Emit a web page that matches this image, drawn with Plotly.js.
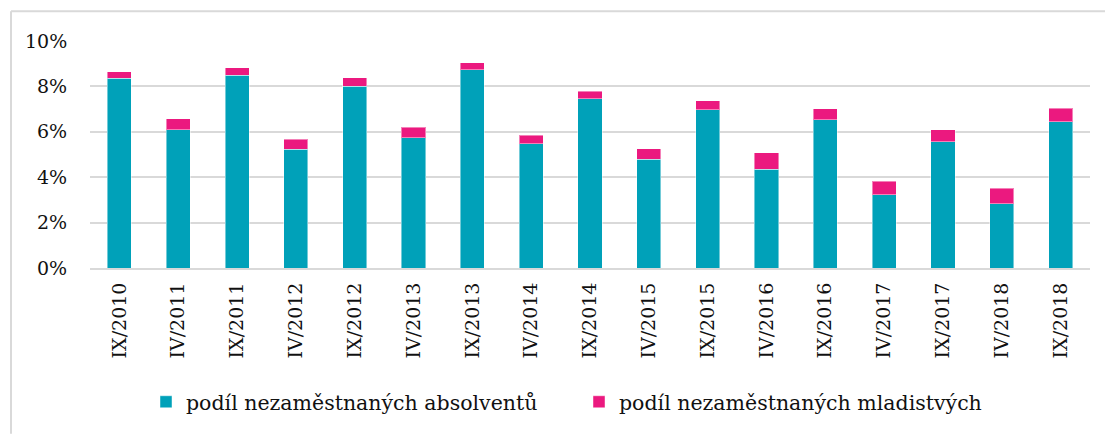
<!DOCTYPE html>
<html>
<head>
<meta charset="utf-8">
<script src="https://cdn.plot.ly/plotly-3.0.1.min.js"></script>
<style>html,body{margin:0;padding:0;background:#fff;}#chart{width:1105px;height:434px;}</style>
</head>
<body>
<div id="chart"></div>
<script>
const categories = ["IX/2010","IV/2011","IX/2011","IV/2012","IX/2012","IV/2013","IX/2013","IV/2014","IX/2014","IV/2015","IX/2015","IV/2016","IX/2016","IV/2017","IX/2017","IV/2018","IX/2018"];
const absolventi = [8.36,6.10,8.50,5.23,8.00,5.73,8.74,5.48,7.45,4.80,6.98,4.36,6.54,3.22,5.57,2.84,6.45];
const mladistvi  = [0.29,0.48,0.33,0.44,0.39,0.47,0.31,0.37,0.33,0.46,0.39,0.71,0.48,0.60,0.53,0.68,0.59];
const seriesNames = ["podíl nezaměstnaných absolventů","podíl nezaměstnaných mladistvých"];
const yTickVals = [0,2,4,6,8,10];
const yTickText = ["0%","2%","4%","6%","8%","10%"];

const font = "DejaVu Serif, Liberation Serif, serif";
const data = [
  {type:'bar', x:categories, y:absolventi, name:seriesNames[0],
   marker:{color:'#00a1b9', line:{color:'rgba(255,255,255,0.45)', width:1}}, hoverinfo:'y'},
  {type:'bar', x:categories, y:mladistvi, name:seriesNames[1],
   marker:{color:'#eb197f', line:{color:'rgba(255,255,255,0.45)', width:1}}, hoverinfo:'y'}
];
const layout = {
  width:1105, height:434,
  barmode:'stack', bargap:0.59,
  margin:{l:90, r:15, t:41, b:166},
  paper_bgcolor:'#fff', plot_bgcolor:'#fff',
  font:{family:font, color:'#111', size:18},
  xaxis:{type:'category', tickangle:-90, tickfont:{family:font, size:19, color:'#111'},
         showgrid:false, showline:true, linecolor:'#d9d9d9', linewidth:2,
         ticks:'outside', ticklen:5, tickcolor:'rgba(0,0,0,0)', fixedrange:true},
  yaxis:{range:[0,10], tickvals:yTickVals, ticktext:yTickText,
         tickfont:{family:font, size:19, color:'#111'},
         showgrid:true, gridcolor:'#d9d9d9', gridwidth:2, zeroline:false,
         ticks:'outside', ticklen:18, tickcolor:'rgba(0,0,0,0)', fixedrange:true},
  showlegend:true,
  legend:{orientation:'h', x:0.056, xanchor:'left', y:-0.59, yanchor:'middle',
          bgcolor:'rgba(0,0,0,0)',
          font:{family:font, size:20.5, color:'#111'}, traceorder:'normal',
          entrywidth:388, entrywidthmode:'pixels', itemclick:false},
  shapes:[
    {type:'line', xref:'paper', yref:'paper', x0:-0.079, x1:-0.079, y0:1.131, y1:-0.73, line:{color:'#d9d9d9', width:2}},
    {type:'line', xref:'paper', yref:'paper', x0:-0.079, x1:1.02, y0:1.131, y1:1.131, line:{color:'#d9d9d9', width:2}}
  ]
};
Plotly.newPlot('chart', data, layout, {displayModeBar:false, staticPlot:true});
</script>
</body>
</html>
